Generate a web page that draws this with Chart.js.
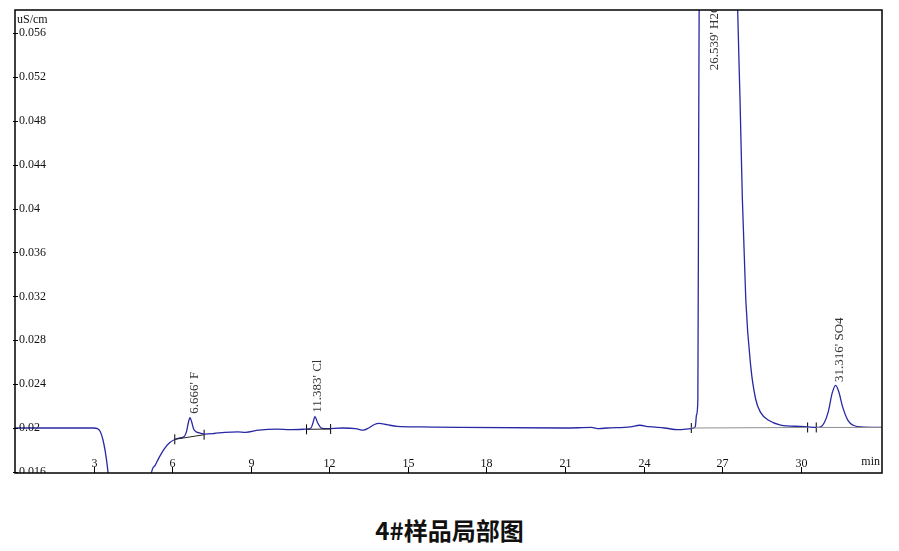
<!DOCTYPE html>
<html lang="zh">
<head>
    <meta charset="UTF-8">
    <title>4#样品局部图</title>
    <script src="https://cdn.jsdelivr.net/npm/chart.js"></script>
    <style>
        body { margin: 0; background: #fff; }
        .wrap { position: relative; width: 899px; height: 551px; }
        #chromChart { position: absolute; left: 0; top: 0; }
        .caption {
            position: absolute;
            left: 0; width: 899px; top: 514px;
            text-align: center;
            font-family: "Noto Sans CJK SC", sans-serif;
            font-weight: bold;
            font-size: 24px;
            line-height: 32px;
            color: #111;
        }
    </style>
</head>
<body>
<div class="wrap">
    <canvas id="chromChart" width="899" height="490"></canvas>
    <div class="caption">4#样品局部图</div>
</div>
<script>
    // signal trace (min, uS/cm)
    const times = [0, 3.0, 3.15, 3.25, 3.35, 3.45, 3.55, 3.65, 3.8, 4.2, 4.8, 5.0, 5.21, 5.35, 5.5, 5.7, 5.9, 6.1, 6.3, 6.45,
        6.55, 6.62, 6.68, 6.74, 6.82, 6.92, 7.05, 7.25, 7.6, 8.0, 8.5, 8.8, 9.3, 10.0, 10.5, 11.1, 11.3, 11.38, 11.45, 11.55,
        11.7, 11.9, 12.5, 13.0, 13.3, 13.5, 13.7, 13.9, 14.2, 14.6, 15.5, 17.0, 21.0, 22.0, 22.3, 22.6, 23.5, 23.85, 24.2, 24.8,
        25.3, 25.82, 25.97, 26.02, 26.07, 26.1, 26.13, 26.54, 27.5, 27.59, 27.68, 27.77, 27.9, 28.09, 28.28, 28.47, 28.77, 29.23, 30.0, 30.26,
        30.6, 30.76, 30.9, 31.05, 31.2, 31.33, 31.45, 31.6, 31.8, 32.0, 32.3, 33.1];
    const signal = [0.0200, 0.0200, 0.01995, 0.0197, 0.0190, 0.0178, 0.0160, 0.0135, 0.0100, 0.004, 0.004, 0.0100, 0.0159, 0.0166, 0.0173, 0.0181, 0.01865, 0.01895, 0.0191, 0.0192,
        0.0197, 0.0205, 0.02094, 0.0206, 0.0199, 0.01965, 0.01955, 0.01945, 0.0195, 0.0196, 0.01965, 0.0196, 0.0198, 0.0199, 0.01985, 0.0199, 0.0200, 0.0205, 0.02103, 0.0205,
        0.0200, 0.01995, 0.0200, 0.01995, 0.0198, 0.0200, 0.0203, 0.02043, 0.0203, 0.02015, 0.0201, 0.02005, 0.0200, 0.02005, 0.01995, 0.0200, 0.0201, 0.02025, 0.02012, 0.0200,
        0.01985, 0.01995, 0.0201, 0.0212, 0.0226, 0.045, 0.065, 0.11, 0.07, 0.0581, 0.0499, 0.0408, 0.0317, 0.0256, 0.0226, 0.0214, 0.0207, 0.02027, 0.02014, 0.0201,
        0.02005, 0.0201, 0.0205, 0.0215, 0.0232, 0.02389, 0.0233, 0.0219, 0.0207, 0.02025, 0.0201, 0.02005];

    // integration baselines
    const baseF = [[6.1, 0.01897], [7.22, 0.01939]];
    const baseCl = [[11.13, 0.01988], [12.05, 0.01991]];
    const baseH2O = [[25.82, 0.0200], [30.26, 0.02005]];
    const baseSO4 = [[30.59, 0.02005], [33.1, 0.02005]];
    const markerTimes = [6.1, 7.22, 11.13, 12.05, 25.82, 30.26, 30.59];
    const markerValues = [0.01897, 0.01939, 0.01988, 0.01991, 0.0200, 0.02005, 0.02005];

    // peak labels
    const peakNames = ["6.666' F", "11.383' Cl", "26.539' H2O", "31.316' SO4"];
    const peakTimes = [6.666, 11.383, 26.539, 31.316];
    const peakLabelValues = [0.0213, 0.0214, 0.0526, 0.0242];

    // axes
    const xTicks = [3, 6, 9, 12, 15, 18, 21, 24, 27, 30];
    const yTicks = [0.016, 0.02, 0.024, 0.028, 0.032, 0.036, 0.04, 0.044, 0.048, 0.052, 0.056];
    const yTickLabels = ['0.016', '0.02', '0.024', '0.028', '0.032', '0.036', '0.04', '0.044', '0.048', '0.052', '0.056'];

    const toPts = arr => arr.map(p => ({ x: p[0], y: p[1] }));
    const serif = '12px "Liberation Serif", "Times New Roman", serif';

    const framePlugin = {
        id: 'frame',
        afterDraw(chart) {
            const ctx = chart.ctx;
            const a = chart.chartArea;
            const xs = chart.scales.x, ys = chart.scales.y;
            ctx.save();
            ctx.fillStyle = '#111';
            ctx.strokeStyle = '#000';

            // peak labels, clipped to plot
            ctx.save();
            ctx.beginPath();
            ctx.rect(a.left, a.top, a.right - a.left, a.bottom - a.top);
            ctx.clip();
            ctx.fillStyle = '#333';
            ctx.font = '13px "Liberation Serif", "Times New Roman", serif';
            peakNames.forEach((name, i) => {
                const px = xs.getPixelForValue(peakTimes[i]) + 4.5;
                const py = ys.getPixelForValue(peakLabelValues[i]);
                ctx.save();
                ctx.translate(px, py);
                ctx.rotate(-Math.PI / 2);
                ctx.textAlign = 'left';
                ctx.textBaseline = 'middle';
                ctx.fillText(name, 0, 0);
                ctx.restore();
            });

            // y tick labels (inside)
            ctx.font = serif;
            ctx.fillStyle = '#111';
            ctx.textAlign = 'left';
            ctx.textBaseline = 'middle';
            yTicks.forEach((v, i) => {
                ctx.fillText(yTickLabels[i], a.left + 4, ys.getPixelForValue(v));
            });
            ctx.restore();

            // y ticks
            ctx.font = serif;
            ctx.lineWidth = 1;
            yTicks.forEach(v => {
                const y = Math.round(ys.getPixelForValue(v)) + 0.5;
                ctx.beginPath();
                ctx.moveTo(a.left - 2, y);
                ctx.lineTo(a.left + 3, y);
                ctx.stroke();
            });

            // x ticks and labels
            ctx.textAlign = 'center';
            ctx.textBaseline = 'middle';
            xTicks.forEach(v => {
                const x = Math.round(xs.getPixelForValue(v)) + 0.5;
                ctx.fillText(String(v), x, a.bottom - 9);
                ctx.beginPath();
                ctx.moveTo(x, a.bottom);
                ctx.lineTo(x, a.bottom - 6);
                ctx.stroke();
            });
            ctx.textAlign = 'right';
            ctx.fillText('min', a.right - 2, a.bottom - 11);
            ctx.textAlign = 'left';
            ctx.fillText('uS/cm', a.left + 2, a.top + 10);

            // frame
            ctx.lineWidth = 1.5;
            ctx.strokeRect(a.left, a.top, a.right - a.left, a.bottom - a.top);
            ctx.restore();
        }
    };

    const baseStyle = (color) => ({
        type: 'line', borderColor: color, borderWidth: 1, pointRadius: 0, fill: false, clip: 0
    });

    new Chart(document.getElementById('chromChart'), {
        type: 'line',
        data: {
            datasets: [
                Object.assign(baseStyle('#222'), { data: toPts(baseF) }),
                Object.assign(baseStyle('#222'), { data: toPts(baseCl) }),
                Object.assign(baseStyle('#8f8f8f'), { data: toPts(baseH2O) }),
                Object.assign(baseStyle('#8f8f8f'), { data: toPts(baseSO4) }),
                {
                    data: times.map((t, i) => ({ x: t, y: signal[i] })),
                    borderColor: '#2828a4',
                    borderWidth: 1.3,
                    pointRadius: 0,
                    fill: false,
                    cubicInterpolationMode: 'monotone',
                    clip: 0
                },
                {
                    data: markerTimes.map((t, i) => ({ x: t, y: markerValues[i] })),
                    showLine: false,
                    pointStyle: 'line',
                    rotation: 90,
                    pointRadius: 5,
                    pointBorderColor: '#000',
                    pointBorderWidth: 1,
                    clip: false
                }
            ]
        },
        options: {
            responsive: false,
            animation: false,
            layout: { padding: { left: 15, top: 10, right: 17, bottom: 17 } },
            plugins: { legend: { display: false }, tooltip: { enabled: false } },
            scales: {
                x: { type: 'linear', min: 0, max: 33.1, display: false },
                y: { type: 'linear', min: 0.0159, max: 0.0581, display: false }
            }
        },
        plugins: [framePlugin]
    });
</script>
</body>
</html>
